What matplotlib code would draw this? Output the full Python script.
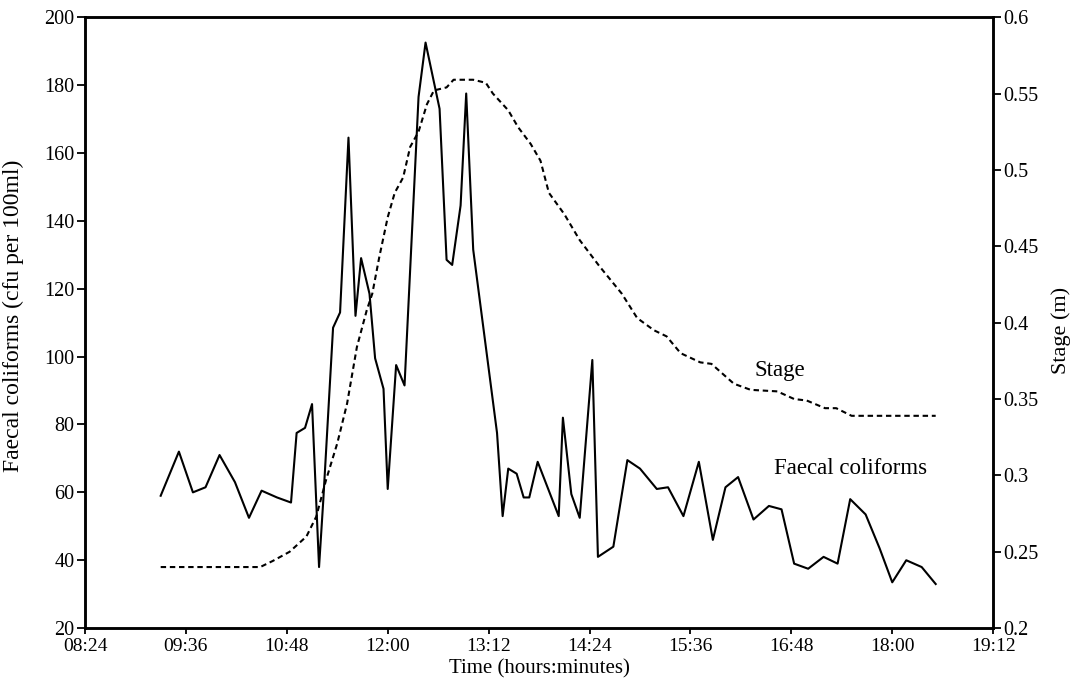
import matplotlib
matplotlib.use("Agg")
import matplotlib.pyplot as plt
from matplotlib.ticker import FuncFormatter, MultipleLocator

plt.rcParams["font.family"] = ["Liberation Serif", "DejaVu Serif"]

# faecal coliforms (cfu per 100ml) sampled through the storm event
fc_times = [
    "09:18", "09:31", "09:41", "09:50", "10:00", "10:11", "10:21", "10:30",
    "10:41", "10:51", "10:55", "11:01", "11:06", "11:11", "11:14", "11:21",
    "11:26", "11:32", "11:37", "11:41", "11:47", "11:51", "11:57", "12:00",
    "12:06", "12:12", "12:22", "12:27", "12:37", "12:42", "12:46", "12:52",
    "12:56", "13:01", "13:18", "13:22", "13:26", "13:32", "13:37", "13:41",
    "13:47", "14:02", "14:05", "14:11", "14:17", "14:26", "14:30", "14:41",
    "14:51", "15:00", "15:12", "15:20", "15:31", "15:42", "15:52", "16:01",
    "16:10", "16:21", "16:32", "16:41", "16:50", "17:00", "17:11", "17:21",
    "17:30", "17:41", "17:51", "18:00", "18:10", "18:21", "18:31",
]
fc_values = [
    59, 72, 60, 61.5, 71, 63, 52.5, 60.5,
    58.5, 57, 77.5, 79, 86, 38, 57.5, 108.5,
    113, 164.5, 112, 129, 118.5, 99.5, 90.5, 61,
    97.5, 91.5, 176.5, 192.5, 173, 128.5, 127, 144.5,
    177.5, 131.5, 77.5, 53, 67, 65.5, 58.5, 58.5,
    69, 53, 82, 59.5, 52.5, 99, 41, 44,
    69.5, 67, 61, 61.5, 53, 69, 46, 61.5,
    64.5, 52, 56, 55, 39, 37.5, 41, 39,
    58, 53.5, 43.5, 33.5, 40, 38, 33,
]

# river stage (m)
stage_times = [
    "09:18", "10:29", "10:38", "10:50", "11:02", "11:09", "11:16", "11:24",
    "11:31", "11:38", "11:45", "11:49", "11:54", "12:00", "12:05", "12:11",
    "12:16", "12:22", "12:28", "12:33", "12:42", "12:47", "13:01", "13:10",
    "13:15", "13:26", "13:33", "13:42", "13:49", "13:55", "14:06", "14:17",
    "14:31", "14:47", "14:58", "15:10", "15:19", "15:29", "15:43", "15:51",
    "16:07", "16:19", "16:38", "16:50", "16:59", "17:12", "17:20", "17:31",
    "18:31",
]
stage_values = [
    0.24, 0.24, 0.244, 0.25, 0.26, 0.273, 0.297, 0.321,
    0.347, 0.384, 0.408, 0.419, 0.443, 0.469, 0.485, 0.495,
    0.515, 0.525, 0.543, 0.552, 0.554, 0.559, 0.559, 0.557,
    0.55, 0.539, 0.528, 0.517, 0.506, 0.485, 0.471, 0.454,
    0.437, 0.419, 0.403, 0.395, 0.391, 0.38, 0.374, 0.373,
    0.36, 0.356, 0.355, 0.35, 0.349, 0.344, 0.344, 0.339,
    0.339,
]


def to_minutes(hhmm):
    h, m = hhmm.split(":")
    return int(h) * 60 + int(m)


def fmt_time(x, pos):
    x = int(round(x))
    return f"{x // 60:02d}:{x % 60:02d}"


fc_x = [to_minutes(t) for t in fc_times]
st_x = [to_minutes(t) for t in stage_times]

fig = plt.figure(figsize=(10.76, 6.85), dpi=100)
ax = fig.add_axes([0.079, 0.083, 0.844, 0.892])
ax2 = ax.twinx()

ax.plot(fc_x, fc_values, color="black", linewidth=1.5)
ax2.plot(st_x, stage_values, color="black", linewidth=1.5,
         linestyle=(0, (2.6, 1.8)))

ax.set_xlim(to_minutes("08:24"), to_minutes("19:12"))
ax.xaxis.set_major_locator(MultipleLocator(72))
ax.xaxis.set_major_formatter(FuncFormatter(fmt_time))

ax.set_ylim(20, 200)
ax.yaxis.set_major_locator(MultipleLocator(20))
ax2.set_ylim(0.2, 0.6)
ax2.yaxis.set_major_locator(MultipleLocator(0.05))
ax2.yaxis.set_major_formatter(FuncFormatter(lambda v, p: f"{v:g}"))

for a in (ax, ax2):
    for s in a.spines.values():
        s.set_linewidth(1.8)
    a.tick_params(axis="y", direction="out", length=6, width=1.3,
                  labelsize=14.5, pad=1.5)
ax.tick_params(axis="x", direction="out", length=4, width=1.3,
               labelsize=14, pad=3)

# x label sits just under the tick labels, close to the lower edge
fig.text(0.5 * (85 + 993) / 1076, 1 - 669 / 685, "Time (hours:minutes)",
         fontsize=15, ha="center", va="center")
fig.text(13 / 1076, 1 - 316 / 685, "Faecal coliforms (cfu per 100ml)",
         rotation=90, fontsize=17, ha="center", va="center")
fig.text(1061 / 1076, 1 - 330 / 685, "Stage (m)",
         rotation=90, fontsize=16, ha="center", va="center")

ax.text(to_minutes("16:40"), 96, "Stage", fontsize=16.5, ha="center", va="center")
ax.text(to_minutes("17:30"), 67, "Faecal coliforms", fontsize=16.5,
        ha="center", va="center")

fig.savefig("out.png", dpi=100)
